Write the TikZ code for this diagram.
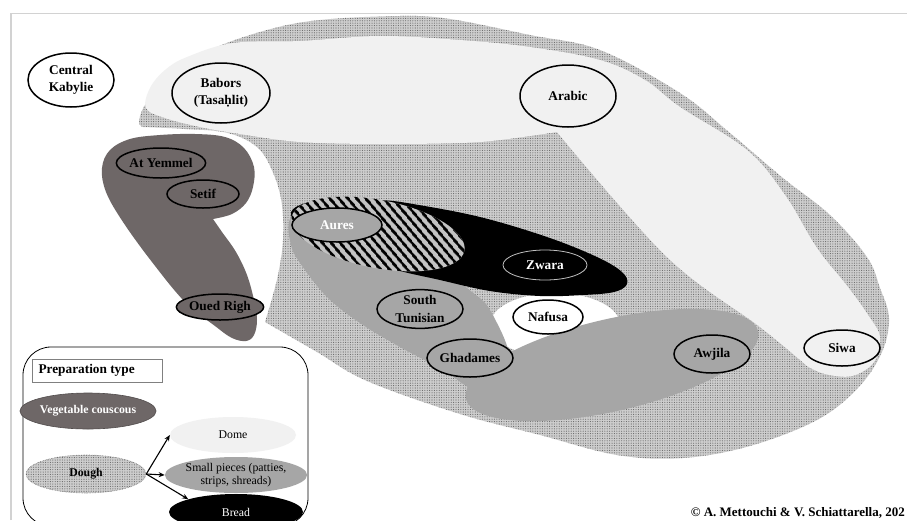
\documentclass[tikz,border=0pt]{standalone}
\usepackage{fontspec}
\setmainfont{Liberation Serif}
\usetikzlibrary{shapes.geometric,patterns,patterns.meta,arrows.meta}
\definecolor{brownc}{RGB}{110,103,103}
\definecolor{greyc}{RGB}{166,166,166}
\definecolor{lightc}{RGB}{241,241,241}
\definecolor{dotbg}{RGB}{205,205,205}
\definecolor{framec}{RGB}{210,210,210}
\definecolor{hatchbg}{RGB}{195,195,195}
\newcommand\labfont{\fontsize{13.3}{16.5}\selectfont\bfseries}
\newcommand\legfont{\fontsize{11.8}{13.5}\selectfont}
\begin{document}
\begin{tikzpicture}[x=1pt,y=-1pt,
  dotfill/.style={fill=dotbg, postaction={pattern={Dots[distance=2.4pt,radius=0.55pt]}, pattern color=black!60}},
  lab/.style={ellipse, draw, line width=1.5pt, font=\labfont, align=center, inner sep=0pt},
  leg/.style={ellipse, inner sep=0pt, font=\legfont, align=center},
  arr/.style={line width=1.1pt, -{Stealth[length=6pt,width=5pt]}}]
\useasboundingbox (0,0) rectangle (907,520);
\begin{scope}
\clip (0,0) rectangle (907,520);
\fill[white] (0,0) rectangle (907,520);
\draw[framec, line width=1.2pt] (11,520) -- (11,13.5) -- (907,13.5);

% outer dotted region (Dough)
\path[dotfill] plot[smooth, tension=0.6] coordinates {(265,322) (317,352) (367,381) (460,414) (540,435) (617,455) (683,458) (750,446) (817,420) (858,388) (882,352) (889,318) (880,288) (867,257) (830,215) (783,178) (730,133) (680,93) (600,50) (530,35) (450,19) (400,16) (320,20) (267,30) (210,50) (167,77) (145,105) (139,122) (143,127)}
 -- plot[smooth, tension=0.6] coordinates {(143,127) (185,129) (228,133) (258,148) (274,175) (282,205) (283,240) (279,270) (273,295) (265,322)} -- cycle;

% light region (Dome)
\fill[lightc] plot[smooth, tension=0.6] coordinates {(557,132) (500,140) (460,143) (380,144) (300,142) (240,134) (200,127) (165,118) (146,108) (150,88) (165,70) (187,57) (233,43) (300,41) (380,36) (460,40) (530,47) (600,60) (645,80) (680,107) (747,150) (785,195) (817,248) (848,287) (868,315) (880,337) (874,362) (852,376) (825,374) (807,366)}
 -- plot[smooth, tension=0.6] coordinates {(807,366) (760,327) (667,257) (557,132)} -- cycle;

% white blob round Nafusa
\fill[white] (555,325) ellipse [x radius=65pt, y radius=32pt];

% grey region (Small pieces)
\fill[greyc] plot[smooth cycle, tension=0.6] coordinates {(300,205) (289,222) (291,245) (300,263) (327,297) (360,323) (400,347) (443,370) (478,392) (510,390) (512,365) (506,343) (497,323) (486,304) (472,292) (455,279) (420,255) (370,225) (330,205)};
\fill[greyc, rotate around={13:(612,365)}] (612,365) ellipse [x radius=150pt, y radius=46pt];

% black region (Bread)
\fill[black] plot[smooth cycle, tension=0.6] coordinates {(291,215) (300,205) (330,199) (380,200) (413,204) (480,217) (547,237) (597,257) (622,272) (627,284) (614,292) (583,295) (540,296) (490,291) (440,280) (390,268) (340,248) (305,230)};

% hatched region
\fill[hatchbg, rotate around={-11:(378,234)}] (378,234) ellipse [x radius=88pt, y radius=34pt];
\fill[pattern={Lines[angle=-50,distance=6.5pt,line width=2.8pt]}, pattern color=black, rotate around={-11:(378,234)}] (378,234) ellipse [x radius=88pt, y radius=34pt];

% brown region (Vegetable couscous)
\fill[brownc] plot[smooth, tension=0.6] coordinates {(213,219) (222,232) (236,252) (247,275) (254,300) (257,320) (254,335) (246,341) (232,338) (215,326) (185,302) (152,262) (123,222) (106,192) (102,168) (110,150) (130,139) (160,135) (195,134) (225,137) (244,148) (254,167) (253,187) (246,203) (232,214) (213,219)} -- cycle;

% labelled ellipses
\node[lab, fill=white, minimum width=86pt, minimum height=54pt] (ck) at (71,80) {Central\\Kabylie};
\node[lab, fill=lightc, minimum width=98pt, minimum height=60pt] (bab) at (221,93) {Babors\\(Tasaḥlit)};
\node[lab, fill=lightc, minimum width=96pt, minimum height=62pt] (ara) at (568,96) {Arabic};
\node[lab, fill=lightc, minimum width=76pt, minimum height=36pt] (siw) at (842,348) {Siwa};
\node[lab, fill=greyc, minimum width=76pt, minimum height=38pt] (awj) at (712,354) {Awjila};
\node[lab, fill=white, minimum width=70pt, minimum height=34pt] (naf) at (548,317) {Nafusa};
\node[lab, fill=greyc, minimum width=86pt, minimum height=38pt] (gha) at (470,358) {Ghadames};
\node[lab, fill=greyc, minimum width=86pt, minimum height=38pt, font=\fontsize{13.3}{18}\selectfont\bfseries] (stu) at (420,309) {South\\Tunisian};
\node[lab, fill=greyc, text=white, minimum width=90pt, minimum height=34pt] (aur) at (337,225) {Aures};
\node[lab, fill=black, draw=black!25, line width=0.8pt, text=white, minimum width=84pt, minimum height=30pt] (zwa) at (545,265) {Zwara};
\node[lab, fill=brownc, minimum width=76pt, minimum height=30pt] (aty) at (161,163) {At Yemmel};
\node[lab, fill=brownc, minimum width=72pt, minimum height=28pt] (set) at (203,194) {Setif};
\node[lab, fill=brownc, minimum width=70pt, minimum height=26pt] (oue) at (220,307) {Oued Righ};

% legend
\draw[line width=0.8pt, fill=white, rounded corners=28pt] (23,347) rectangle (308,526);
\node[draw=black!50, line width=0.7pt, minimum width=130pt, minimum height=23pt, inner sep=0pt, anchor=west] (ptbox) at (32,370.5) {};
\node[anchor=west, font=\fontsize{13.3}{15}\selectfont\bfseries] (pt) at (35,370.5) {Preparation type};
\node[leg, fill=brownc, draw=brownc!75!black, line width=0.6pt, text=white, font=\legfont\bfseries, minimum width=122pt, minimum height=36pt] (veg) at (88,411) {Vegetable couscous};
\node[leg, dotfill, draw=black!55, line width=0.6pt, densely dotted, font=\legfont\bfseries, minimum width=120pt, minimum height=38pt] (dou) at (86,474) {Dough};
\node[leg, fill=lightc, minimum width=126pt, minimum height=36pt] (dom) at (233,435) {Dome};
\node[leg, fill=greyc, minimum width=132pt, minimum height=36pt] (smp) at (236,475) {Small pieces (patties,\\strips, shreads)};
\node[leg, fill=black, text=white, minimum width=134pt, minimum height=36pt] (bre) at (236,512) {Bread};
\draw[arr] (dou.east) -- (dom.west);
\draw[arr] (dou.east) -- (smp.west);
\draw[arr] (dou.east) -- (bre.165);

\node[anchor=base east, font=\fontsize{13}{15}\selectfont\bfseries, inner sep=0pt] (copy) at (905,516) {© A. Mettouchi \& V. Schiattarella, 202};
\end{scope}
\end{tikzpicture}
\end{document}
